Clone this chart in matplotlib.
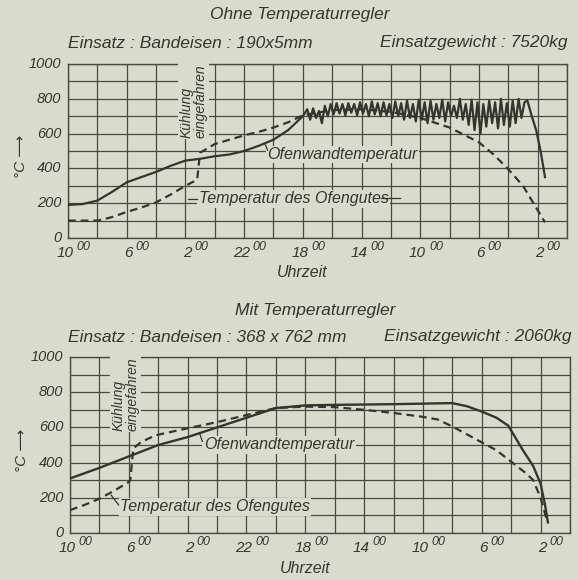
import matplotlib
matplotlib.use("Agg")
import matplotlib.pyplot as plt

plt.rcParams['font.family'] = ['Liberation Sans', 'DejaVu Sans']
plt.rcParams['font.style'] = 'italic'

# --- data (hours since start of record, temperature in deg C) ---
clock_labels = ["10", "6", "2", "22", "18", "14", "10", "6", "2"]
clock_hours = [0, 4, 8, 12, 16, 20, 24, 28, 32]

# Ohne Temperaturregler
ohne_wand_t = [0, 1, 2, 3, 4, 5, 6, 7, 8, 9, 10, 11, 12, 13, 14, 15, 16.0,
               16.3, 16.5, 16.7, 16.9, 17.1, 17.3, 17.5, 17.7, 17.9, 18.1, 18.3, 18.5, 18.7, 18.9,
               19.1, 19.3, 19.5, 19.7, 19.9, 20.1, 20.3, 20.5, 20.7, 20.9, 21.1, 21.3, 21.5, 21.7,
               21.9, 22.1, 22.3, 22.5, 22.7, 22.9, 23.1, 23.3, 23.5, 23.7, 23.9, 24.1, 24.3, 24.5,
               24.7, 24.9, 25.1, 25.3, 25.5, 25.7, 25.9, 26.1, 26.3, 26.5, 26.7, 26.9, 27.1, 27.3,
               27.5, 27.7, 27.9, 28.1, 28.3, 28.5, 28.7, 28.9, 29.1, 29.3, 29.5, 29.7, 29.9, 30.1,
               30.3, 30.5, 30.7, 30.9, 31.1, 31.3, 31.6, 31.9, 32.2, 32.5]
ohne_wand = [190, 195, 215, 265, 320, 350, 380, 415, 445, 455, 470, 480, 500, 530, 565, 620, 700,
             740, 680, 745, 690, 730, 660, 760, 700, 770, 710, 775, 715, 770, 705,
             775, 720, 770, 705, 780, 715, 770, 700, 785, 710, 775, 700, 780, 705,
             770, 690, 785, 700, 775, 680, 790, 690, 770, 670, 795, 680, 780, 660,
             790, 680, 770, 690, 795, 670, 780, 700, 760, 690, 800, 680, 770, 650,
             795, 620, 780, 600, 770, 640, 790, 660, 780, 630, 800, 650, 775, 640,
             790, 660, 800, 690, 780, 790, 700, 620, 500, 350]
ohne_gut_t = [0, 2, 3, 4, 5, 6, 7, 8, 8.8, 9.0, 10, 11, 12, 13, 14, 15, 16, 18, 20, 22, 24,
              26, 28, 29, 30, 31, 32, 32.5]
ohne_gut = [100, 100, 120, 150, 175, 205, 250, 300, 335, 490, 540, 565, 590, 610, 635, 665,
            705, 735, 740, 725, 690, 635, 550, 480, 395, 300, 160, 90]

# Mit Temperaturregler
mit_wand_t = [0, 2, 4, 6, 8, 10, 12, 14, 16, 18, 20, 22, 24, 26, 27, 28, 29, 29.8, 30.3,
              30.8, 31.5, 32, 32.3, 32.5]
mit_wand = [310, 370, 435, 500, 545, 600, 655, 710, 725, 728, 730, 732, 735, 738, 720, 690,
            655, 610, 540, 470, 380, 280, 160, 60]
mit_gut_t = [0, 1, 2, 3, 4, 4.1, 4.3, 4.8, 5.8, 8, 10, 12, 14, 16, 18, 20, 22, 24, 25, 26,
             27, 28, 29, 30, 31, 31.5, 32, 32.4]
mit_gut = [130, 160, 195, 240, 290, 300, 480, 515, 555, 595, 630, 670, 710, 718, 715, 700,
           682, 660, 645, 605, 560, 515, 470, 405, 340, 300, 200, 80]

paper = '#d9dccd'
ink = '#35352f'
grid_ink = '#4a4a43'

fig = plt.figure(figsize=(5.78, 5.80), dpi=100)
fig.patch.set_facecolor(paper)


def setup(ax):
    ax.set_facecolor(paper)
    ax.set_xlim(0, 34)
    ax.set_ylim(0, 1000)
    ax.set_xticks(range(0, 35, 2))
    ax.set_yticks(range(0, 1001, 100))
    ax.grid(True, color=grid_ink, lw=0.9)
    ax.tick_params(length=0, labelbottom=False, labelleft=False)
    for s in ax.spines.values():
        s.set_color(grid_ink)
        s.set_linewidth(1.0)
    for v in range(0, 1001, 200):
        ax.annotate(str(v), xy=(0, v), xycoords='data', xytext=(-5, 0),
                    textcoords='offset points', ha='right', va='center',
                    fontsize=10.5, color=ink, annotation_clip=False)
    for h, lab in zip(clock_hours, clock_labels):
        ax.annotate(lab, xy=(h + 0.4, 0), xytext=(0, -11), textcoords='offset points',
                    ha='right', va='center', fontsize=11, color=ink, annotation_clip=False)
        ax.annotate("00", xy=(h + 0.6, 0), xytext=(0, -6.5), textcoords='offset points',
                    ha='left', va='center', fontsize=9, color=ink, annotation_clip=False)
    ax.text(0.47, -0.2, "Uhrzeit", transform=ax.transAxes, ha='center', va='center',
            fontsize=11.5, color=ink)
    ax.text(-0.095, 0.47, "°C \u27f6", transform=ax.transAxes, rotation=90,
            ha='center', va='center', fontsize=11, color=ink)


box = dict(facecolor=paper, edgecolor='none', pad=1.0)

# ---- top chart ----
ax1 = fig.add_axes([68 / 578, 1 - 238 / 580, 499 / 578, 174 / 580])
setup(ax1)
ax1.plot(ohne_wand_t, ohne_wand, color=ink, lw=1.6, zorder=3)
ax1.plot(ohne_gut_t, ohne_gut, color=ink, lw=1.6, dashes=(3.5, 2.2), zorder=3)
ax1.text(8.55, 1000, "Kühlung\neingefahren", rotation=90, ha='center', va='top',
         multialignment='left', fontsize=10, color=ink, bbox=box, zorder=4, linespacing=1.0)
ax1.text(13.6, 480, "Ofenwandtemperatur", ha='left', va='center', fontsize=11.5,
         color=ink, bbox=box, zorder=4)
ax1.plot([13.4, 13.6], [545, 505], color=ink, lw=0.9, zorder=4)
ax1.text(8.9, 225, "Temperatur des Ofengutes", ha='left', va='center', fontsize=11.5,
         color=ink, bbox=box, zorder=4)
ax1.plot([8.2, 8.8], [225, 225], color=ink, lw=0.9, zorder=4)
ax1.plot([21.3, 22.6], [232, 232], color=ink, lw=0.9, zorder=4)

fig.text(300 / 578, 1 - 15 / 580, "Ohne Temperaturregler", ha='center', va='center',
         fontsize=12.5, color=ink)
fig.text(68 / 578, 1 - 43 / 580, "Einsatz : Bandeisen : 190x5mm", ha='left', va='center',
         fontsize=12.5, color=ink)
fig.text(568 / 578, 1 - 43 / 580, "Einsatzgewicht : 7520kg", ha='right', va='center',
         fontsize=12.5, color=ink)

# ---- bottom chart ----
ax2 = fig.add_axes([70 / 578, 1 - 533 / 580, 500 / 578, 176 / 580])
setup(ax2)
ax2.plot(mit_wand_t, mit_wand, color=ink, lw=1.7, zorder=3)
ax2.plot(mit_gut_t, mit_gut, color=ink, lw=1.6, dashes=(3.5, 2.2), zorder=3)
ax2.text(3.75, 1000, "Kühlung\neingefahren", rotation=90, ha='center', va='top',
         multialignment='left', fontsize=10, color=ink, bbox=box, zorder=4, linespacing=1.0)
ax2.text(9.1, 500, "Ofenwandtemperatur", ha='left', va='center', fontsize=11.5,
         color=ink, bbox=box, zorder=4)
ax2.plot([8.8, 9.0], [570, 520], color=ink, lw=0.9, zorder=4)
ax2.text(3.4, 150, "Temperatur des Ofengutes", ha='left', va='center', fontsize=11.5,
         color=ink, bbox=box, zorder=4)
ax2.plot([2.8, 3.3], [215, 160], color=ink, lw=0.9, zorder=4)

fig.text(315 / 578, 1 - 310 / 580, "Mit Temperaturregler", ha='center', va='center',
         fontsize=12.5, color=ink)
fig.text(68 / 578, 1 - 337 / 580, "Einsatz : Bandeisen : 368 x 762 mm", ha='left',
         va='center', fontsize=12.5, color=ink)
fig.text(572 / 578, 1 - 337 / 580, "Einsatzgewicht : 2060kg", ha='right', va='center',
         fontsize=12.5, color=ink)

fig.savefig("out.png", dpi=100, facecolor=paper)
